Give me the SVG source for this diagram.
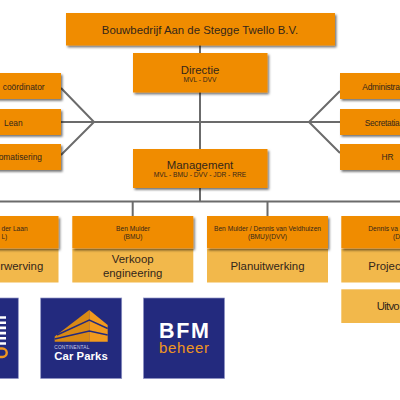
<svg xmlns="http://www.w3.org/2000/svg" width="400" height="400" viewBox="0 0 400 400">
<defs>
<filter id="sh" x="-10%" y="-15%" width="125%" height="140%"><feDropShadow dx="1.5" dy="1.8" stdDeviation="1" flood-color="#000" flood-opacity="0.55"/></filter>
</defs>
<style>
text{font-family:"Liberation Sans",Arial,sans-serif;text-anchor:middle;fill:#33261a}
.s{text-anchor:start}
.e{text-anchor:end}
.o{fill:#f08c00;filter:url(#sh)}
.l{fill:#f2b84b}
.n{fill:#232a7e;stroke:#8d92c4;stroke-width:.7}
.c{fill:none;stroke:#6b6b6b;stroke-width:2}
.big{font-size:11.4px}
.mid{font-size:8.4px}
.sm{font-size:6.65px}
</style>
<rect width="400" height="400" fill="#fff"/>
<g id="connectors">
<path class="c" d="M200 45V201.5M61 88L94 122L61 155M61 122H340M340 91L309 122L340 153M0 201.5H400M132.7 201.5V216M267.5 201.5V216"/>
</g>
<g id="n-top"><rect class="o" x="66" y="13" width="269" height="32.5"/><text x="200" y="33.5" class="big">Bouwbedrijf Aan de Stegge Twello B.V.</text></g>
<g id="n-directie"><rect class="o" x="133" y="53" width="134.5" height="39.5"/><text x="200" y="73.5" class="big">Directie</text><text x="200" y="81.5" class="sm">MVL - DVV</text></g>
<g id="n-management"><rect class="o" x="133" y="149" width="134.5" height="39"/><text x="200" y="169" class="big">Management</text><text x="200" y="177" class="sm">MVL - BMU - DVV - JDR - RRE</text></g>
<g id="n-coord"><rect class="o" x="-30" y="73" width="91" height="26"/><text x="2.7" y="89.5" class="mid s">coördinator</text></g>
<g id="n-lean"><rect class="o" x="-30" y="109" width="91" height="26"/><text x="4" y="125.5" class="mid s">Lean</text></g>
<g id="n-auto"><rect class="o" x="-30" y="144" width="91" height="26"/><text x="42" y="160" class="mid e">omatisering</text></g>
<g id="n-admin"><rect class="o" x="340" y="73" width="91" height="26"/><text x="362.3" y="89.5" class="mid s" textLength="37.5">Administra</text></g>
<g id="n-secr"><rect class="o" x="340" y="109" width="91" height="26"/><text x="364.7" y="125.5" class="mid s" textLength="35">Secretatia</text></g>
<g id="n-hr"><rect class="o" x="340" y="144" width="91" height="26"/><text x="387.5" y="160" class="mid">HR</text></g>
<g id="n-col1"><rect class="l" x="-62" y="249" width="120.5" height="33.5"/><rect class="o" x="-62" y="216" width="120.5" height="32.5"/><text x="27.7" y="230.7" class="sm e">der Laan</text><text x="7.3" y="239" class="sm e">L)</text><text x="43.3" y="270" class="big e">rwerving</text></g>
<g id="n-col2"><rect class="l" x="72.3" y="249" width="121" height="33.5"/><rect class="o" x="72.3" y="216" width="121" height="32.5"/><text x="133" y="230.7" class="sm">Ben Mulder</text><text x="133" y="239" class="sm">(BMU)</text><text x="132.7" y="263.3" class="big">Verkoop</text><text x="132.7" y="276.7" class="big">engineering</text></g>
<g id="n-col3"><rect class="l" x="207" y="249" width="121" height="33.5"/><rect class="o" x="207" y="216" width="121" height="32.5"/><text x="267.5" y="230.7" class="sm">Ben Mulder / Dennis van Veldhuizen</text><text x="267.5" y="239" class="sm">(BMU)/(DVV)</text><text x="267.5" y="270" class="big">Planuitwerking</text></g>
<g id="n-col4"><rect class="l" x="341.3" y="249" width="121" height="33.5"/><rect class="o" x="341.3" y="216" width="121" height="32.5"/><text x="368.3" y="230.7" class="sm s">Dennis va</text><text x="393" y="239" class="sm s">(D</text><text x="368.3" y="270" class="big s">Projec</text></g>
<g id="n-uitv"><rect class="l" x="341.3" y="289.3" width="121" height="33.7"/><text x="376.7" y="310" class="big s" textLength="23">Uitvo</text></g>
<g id="logo1"><rect class="n" x="-64" y="298" width="82.3" height="80.5"/><path d="M0 317.5H6M0 322.7H6M0 327.9H6M0 333.1H6M0 338.3H6M0 343.5H6" stroke="#fff" stroke-width="2.6" fill="none"/><path d="M0 348.5H2.5A4 4 0 0 1 2.5 357H0" fill="none" stroke="#ef9620" stroke-width="2.4"/></g>
<g id="logo2"><rect class="n" x="40.7" y="298" width="81" height="80.5"/><path d="M54.7 336.5L89.3 310V341.7H54.7Z" fill="#d98a14"/><path d="M89.3 310L107.7 325V341.7H89.3Z" fill="#f29a1e"/><path d="M57 335L89.3 320L107.7 328.5M54.7 339L89.3 331L107.7 335" fill="none" stroke="#232a7e" stroke-width="1.4"/><text x="54.3" y="349.3" font-size="4.8" textLength="35" class="s" style="fill:#c9cbe6">CONTINENTAL</text><text x="54.3" y="359.5" font-size="11.3" font-weight="700" textLength="53.4" class="s" style="fill:#fff">Car Parks</text></g>
<g id="logo3"><rect class="n" x="143.5" y="298" width="81" height="80.5"/><text x="159" y="338.3" font-size="21.5" font-weight="700" textLength="50" class="s" style="fill:#fff">BFM</text><text x="159" y="353.3" font-size="15" textLength="50" class="s" style="fill:#ef9620">beheer</text></g>
</svg>
